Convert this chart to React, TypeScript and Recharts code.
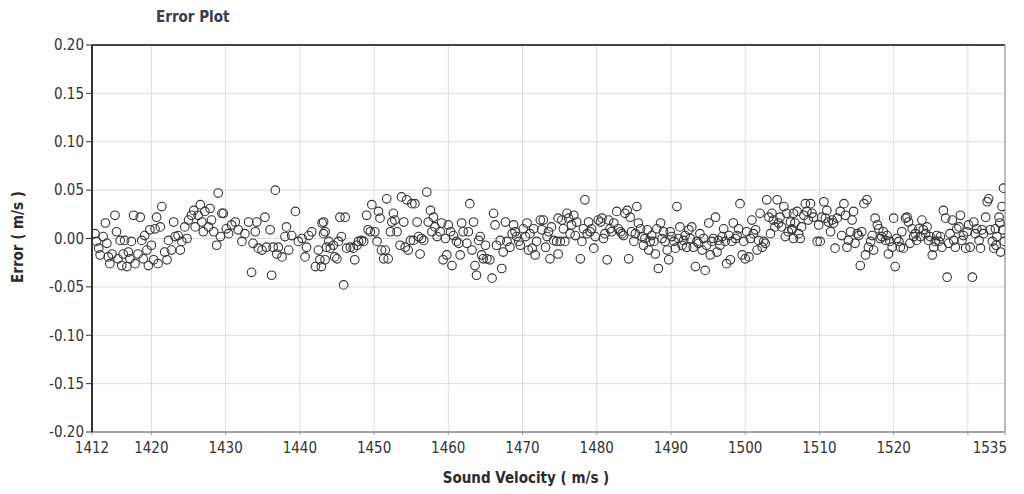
import React from "react";
import {
  ScatterChart,
  Scatter,
  XAxis,
  YAxis,
  CartesianGrid,
  ReferenceLine,
} from "recharts";

// [sound velocity (m/s), error (m/s)], left to right
const SEG_1412_1443: [number, number][] = [
  [1412.4, 0.005], [1412.6, -0.003], [1412.9, -0.01], [1413.1, -0.017], [1413.5, 0.002],
  [1413.8, 0.016], [1414.0, -0.005], [1414.2, -0.019], [1414.4, -0.026], [1414.7, -0.016],
  [1415.1, 0.024], [1415.3, 0.007], [1415.5, -0.021], [1415.8, -0.002], [1416.0, -0.028],
  [1416.2, -0.016], [1416.4, -0.002], [1416.7, -0.029], [1416.9, -0.014], [1417.1, -0.021],
  [1417.3, -0.003], [1417.6, 0.024], [1417.8, -0.026], [1418.2, -0.016], [1418.5, 0.022],
  [1418.7, -0.002], [1418.9, -0.021], [1419.1, 0.003], [1419.4, -0.012], [1419.6, -0.028],
  [1419.8, 0.009], [1420.0, -0.007], [1420.3, -0.022], [1420.5, 0.01], [1420.7, 0.022],
  [1420.9, -0.026], [1421.2, 0.012], [1421.4, 0.033], [1421.8, -0.014], [1422.1, -0.022],
  [1422.3, -0.002], [1422.7, -0.012], [1423.0, 0.017], [1423.2, 0.002], [1423.6, 0.003],
  [1423.9, -0.012], [1424.1, -0.003], [1424.5, 0.012], [1424.8, 0.0], [1425.0, 0.019],
  [1425.4, 0.024], [1425.7, 0.029], [1425.9, 0.012], [1426.3, 0.024], [1426.6, 0.035],
  [1426.8, 0.017], [1427.0, 0.007], [1427.2, 0.028], [1427.7, 0.012], [1427.9, 0.031],
  [1428.1, 0.019], [1428.4, 0.007], [1428.8, -0.007], [1429.0, 0.047], [1429.3, 0.002],
  [1429.5, 0.026], [1429.7, 0.026], [1430.1, 0.01], [1430.4, 0.005], [1430.8, 0.014],
  [1431.3, 0.017], [1431.7, 0.009], [1432.2, -0.003], [1432.6, 0.005], [1433.1, 0.017],
  [1433.5, -0.035], [1433.7, -0.005], [1434.0, 0.007], [1434.2, 0.017], [1434.4, -0.01],
  [1434.9, -0.012], [1435.3, 0.022], [1435.5, -0.009], [1436.0, 0.009], [1436.2, -0.038],
  [1436.4, -0.009], [1436.7, 0.05], [1436.9, -0.016], [1437.1, -0.009], [1437.6, -0.019],
  [1438.0, 0.002], [1438.2, 0.012], [1438.5, -0.012], [1438.9, 0.003], [1439.4, 0.028],
  [1439.8, -0.003], [1440.3, 0.0], [1440.7, -0.019], [1440.9, -0.009], [1441.2, 0.003],
  [1441.6, 0.007], [1442.1, -0.029], [1442.5, -0.012], [1442.7, -0.022], [1443.0, 0.016],
  [1443.2, 0.005],
];

const SEG_1443_1475: [number, number][] = [
  [1443.2, 0.017], [1443.4, 0.007], [1443.6, -0.009], [1443.4, -0.022], [1442.9, -0.029],
  [1443.9, -0.003], [1444.1, -0.01], [1444.5, -0.007], [1444.7, -0.019], [1445.0, -0.021],
  [1445.2, -0.003], [1445.4, 0.022], [1445.6, 0.002], [1445.9, -0.048], [1446.1, 0.022],
  [1446.3, -0.01], [1446.8, -0.009], [1447.2, -0.01], [1447.4, -0.022], [1447.7, -0.007],
  [1447.9, -0.003], [1448.3, -0.002], [1448.6, -0.003], [1449.0, 0.024], [1449.2, 0.009],
  [1449.5, 0.007], [1449.7, 0.035], [1450.1, 0.007], [1450.4, -0.003], [1450.6, 0.028],
  [1450.8, 0.021], [1451.0, -0.012], [1451.3, -0.021], [1451.5, -0.012], [1451.7, 0.041],
  [1451.9, -0.021], [1452.2, 0.007], [1452.4, 0.017], [1452.6, 0.026], [1452.8, 0.019],
  [1453.1, 0.007], [1453.5, -0.007], [1453.7, 0.043], [1454.0, 0.017], [1454.2, -0.009],
  [1454.4, 0.04], [1454.6, -0.012], [1454.9, -0.002], [1455.1, 0.036], [1455.3, -0.002],
  [1455.5, 0.036], [1455.8, 0.017], [1456.0, 0.002], [1456.2, -0.016], [1456.4, 0.0],
  [1456.7, -0.002], [1457.1, 0.048], [1457.3, 0.017], [1457.6, 0.029], [1457.8, 0.007],
  [1458.0, 0.022], [1458.2, 0.012], [1458.5, 0.002], [1458.9, 0.007], [1459.1, 0.016],
  [1459.3, -0.022], [1459.6, 0.0], [1459.8, -0.017], [1460.0, 0.014], [1460.3, 0.007],
  [1460.5, -0.028], [1460.7, 0.003], [1461.1, -0.003], [1461.4, -0.005], [1461.6, -0.017],
  [1461.8, 0.016], [1462.0, 0.007], [1462.5, -0.005], [1462.7, 0.007], [1462.9, 0.036],
  [1463.2, -0.012], [1463.4, 0.017], [1463.6, -0.028], [1463.8, -0.038], [1464.1, -0.002],
  [1464.3, 0.002], [1464.5, -0.017], [1464.7, -0.021], [1465.0, -0.007], [1465.2, -0.021],
  [1465.6, -0.022], [1465.9, -0.041], [1466.1, 0.026], [1466.3, 0.014], [1466.5, -0.007],
  [1467.0, -0.002], [1467.2, -0.031], [1467.4, -0.014], [1467.7, 0.017], [1467.9, -0.003],
  [1468.3, -0.009], [1468.6, 0.005], [1468.8, 0.014], [1469.0, 0.007], [1469.2, 0.002],
  [1469.5, -0.003], [1469.7, -0.007], [1470.1, 0.01], [1470.4, 0.002], [1470.6, 0.016],
  [1470.8, -0.012], [1471.0, 0.005], [1471.3, -0.01], [1471.5, 0.01], [1471.7, -0.017],
  [1471.9, -0.003], [1472.4, 0.019], [1472.6, 0.009], [1472.8, 0.019], [1473.1, -0.009],
  [1473.3, 0.002], [1473.5, 0.007], [1473.7, -0.021], [1473.9, 0.012], [1474.2, -0.002],
  [1474.6, -0.003], [1474.8, 0.021],
];

const SEG_1475_1506: [number, number][] = [
  [1474.8, -0.016], [1475.1, -0.003], [1475.3, 0.019], [1475.5, 0.01], [1475.7, -0.003],
  [1476.0, 0.026], [1476.2, 0.021], [1476.4, 0.005], [1476.6, 0.014], [1476.9, 0.024],
  [1477.1, 0.003], [1477.3, 0.017], [1477.8, -0.021], [1478.0, -0.003], [1478.2, 0.01],
  [1478.4, 0.04], [1478.7, 0.005], [1478.9, 0.017], [1479.1, 0.007], [1479.3, 0.01],
  [1479.6, -0.01], [1479.8, 0.002], [1480.2, 0.019], [1480.5, 0.017], [1480.7, 0.021],
  [1480.9, 0.0], [1481.1, 0.005], [1481.4, -0.022], [1481.6, 0.019], [1481.8, 0.01],
  [1482.0, 0.007], [1482.3, 0.016], [1482.7, 0.028], [1482.9, 0.01], [1483.2, 0.007],
  [1483.4, 0.005], [1483.6, 0.003], [1483.8, 0.026], [1484.1, 0.029], [1484.3, -0.021],
  [1484.5, 0.022], [1484.7, 0.007], [1485.0, -0.003], [1485.2, 0.005], [1485.4, 0.033],
  [1485.6, 0.016], [1485.9, 0.01], [1486.1, 0.002], [1486.3, -0.007], [1486.5, 0.0],
  [1486.8, 0.009], [1487.0, -0.012], [1487.2, -0.003], [1487.4, 0.003], [1487.7, -0.003],
  [1487.9, -0.016], [1488.1, 0.01], [1488.3, -0.031], [1488.6, 0.016], [1488.8, 0.0],
  [1489.0, 0.007], [1489.2, -0.003], [1489.5, -0.012], [1489.7, -0.022], [1489.9, 0.007],
  [1490.1, 0.002], [1490.4, -0.003], [1490.6, -0.01], [1490.8, 0.033], [1491.0, 0.0],
  [1491.2, 0.012], [1491.5, -0.007], [1491.7, -0.002], [1491.9, 0.003], [1492.1, -0.009],
  [1492.4, 0.009], [1492.6, 0.0], [1492.8, 0.012], [1493.0, -0.009], [1493.3, -0.029],
  [1493.5, -0.003], [1493.7, -0.005], [1493.9, 0.005], [1494.2, -0.012], [1494.4, 0.0],
  [1494.6, -0.033], [1494.8, -0.007], [1495.1, 0.016], [1495.3, -0.017], [1495.5, -0.003],
  [1495.7, 0.0], [1496.0, 0.022], [1496.2, -0.014], [1496.4, -0.002], [1496.6, -0.007],
  [1496.9, 0.002], [1497.1, 0.01], [1497.3, -0.003], [1497.5, -0.026], [1497.8, 0.003],
  [1498.0, -0.022], [1498.2, -0.003], [1498.4, 0.016], [1498.7, 0.0], [1498.9, 0.003],
  [1499.1, 0.01], [1499.3, 0.036], [1499.6, -0.017], [1499.8, -0.003], [1500.0, -0.021],
  [1500.2, 0.007], [1500.5, -0.019], [1500.7, 0.0], [1500.9, 0.019], [1501.1, 0.005],
  [1501.4, 0.009], [1501.6, -0.012], [1501.8, -0.002], [1502.0, 0.026], [1502.3, -0.009],
  [1502.5, -0.003], [1502.7, -0.005], [1502.9, 0.04], [1503.2, 0.022], [1503.4, 0.005],
  [1503.6, 0.026], [1503.8, 0.019], [1504.0, 0.012], [1504.3, 0.04], [1504.5, 0.016],
  [1504.7, 0.022], [1504.9, 0.012], [1505.2, 0.033], [1505.4, 0.002], [1505.6, 0.026],
  [1505.8, 0.007], [1506.1, 0.017], [1506.3, 0.01], [1506.5, 0.026],
];

const SEG_1506_1535: [number, number][] = [
  [1506.3, 0.009], [1506.5, 0.0], [1506.7, 0.016], [1507.0, 0.028], [1507.2, 0.005],
  [1507.4, 0.0], [1507.6, 0.012], [1507.9, 0.024], [1508.1, 0.036], [1508.3, 0.028],
  [1508.5, 0.019], [1508.8, 0.036], [1509.0, 0.026], [1509.2, 0.022], [1509.7, -0.003],
  [1509.9, 0.014], [1510.1, -0.003], [1510.3, 0.022], [1510.6, 0.038], [1510.8, 0.021],
  [1511.0, 0.029], [1511.2, 0.017], [1511.5, 0.007], [1511.7, 0.019], [1511.9, 0.016],
  [1512.1, -0.01], [1512.4, 0.021], [1512.8, 0.028], [1513.0, 0.003], [1513.3, 0.036],
  [1513.5, 0.024], [1513.7, -0.009], [1513.9, -0.002], [1514.2, 0.007], [1514.4, 0.019],
  [1514.6, 0.028], [1514.8, -0.005], [1515.1, 0.005], [1515.3, 0.003], [1515.5, -0.028],
  [1515.7, 0.007], [1516.0, 0.036], [1516.2, -0.017], [1516.4, 0.04], [1516.6, -0.009],
  [1516.9, -0.003], [1517.1, 0.003], [1517.3, -0.012], [1517.5, 0.021], [1517.8, 0.014],
  [1518.0, 0.01], [1518.2, 0.0], [1518.4, 0.002], [1518.6, 0.007], [1518.9, -0.002],
  [1519.1, 0.003], [1519.3, -0.016], [1519.5, -0.003], [1519.8, -0.009], [1520.0, 0.021],
  [1520.2, -0.029], [1520.4, 0.0], [1520.7, -0.003], [1520.9, -0.009], [1521.1, 0.007],
  [1521.3, -0.01], [1521.6, 0.021], [1521.8, 0.022], [1522.0, 0.017], [1522.2, -0.005],
  [1522.5, 0.01], [1522.7, 0.002], [1522.9, 0.005], [1523.1, -0.002], [1523.4, 0.01],
  [1523.6, 0.002], [1523.8, 0.019], [1524.0, 0.009], [1524.3, 0.005], [1524.5, 0.012],
  [1524.7, -0.002], [1524.9, 0.002], [1525.2, -0.017], [1525.4, -0.009], [1525.6, -0.003],
  [1525.8, 0.003], [1526.1, -0.003], [1526.3, 0.002], [1526.5, -0.009], [1526.7, 0.029],
  [1527.0, 0.021], [1527.2, -0.04], [1527.4, -0.005], [1527.6, 0.005], [1527.9, 0.019],
  [1528.1, -0.002], [1528.3, -0.009], [1528.5, 0.01], [1528.8, 0.012], [1529.0, 0.024],
  [1529.2, -0.002], [1529.4, 0.003], [1529.7, -0.01], [1529.9, 0.007], [1530.1, 0.014],
  [1530.3, -0.009], [1530.6, -0.04], [1530.8, 0.017], [1531.0, 0.005], [1531.2, 0.01],
  [1531.5, -0.002], [1531.7, -0.01], [1531.9, 0.009], [1532.1, 0.005], [1532.4, 0.022],
  [1532.6, 0.038], [1532.8, 0.041], [1533.0, 0.009], [1533.3, -0.003], [1533.5, -0.01],
  [1533.7, 0.01], [1533.8, -0.007], [1533.9, 0.002], [1534.2, 0.022], [1534.3, 0.016],
  [1534.4, -0.014], [1534.6, 0.033], [1534.7, 0.009], [1534.8, 0.052], [1534.9, -0.003],
];

const X_TICKS = [1412, 1420, 1430, 1440, 1450, 1460, 1470, 1480, 1490, 1500, 1510, 1520, 1530, 1535];
const X_LABELED = [1412, 1420, 1430, 1440, 1450, 1460, 1470, 1480, 1490, 1500, 1510, 1520, 1535];
const Y_TICKS = [-0.2, -0.15, -0.1, -0.05, 0, 0.05, 0.1, 0.15, 0.2];

const points = [...SEG_1412_1443, ...SEG_1443_1475, ...SEG_1475_1506, ...SEG_1506_1535].map(
  ([velocity, error]) => ({ velocity, error })
);

const FONT = '"DejaVu Sans Condensed", "Liberation Sans Narrow", "DejaVu Sans", sans-serif';

const Ring = (props: any) => {
  const { cx, cy } = props;
  if (cx == null || cy == null) return null;
  return <circle cx={cx} cy={cy} r={4.3} fill="none" stroke="#333" strokeWidth={1.1} />;
};

// last label sits flush against the right frame so it is not clipped
const VelocityTick = (props: any) => {
  const { x, y, payload } = props;
  const v = payload.value;
  if (!X_LABELED.includes(v)) return null;
  const last = v === X_TICKS[X_TICKS.length - 1];
  return (
    <text
      x={last ? x + 2 : x}
      y={y + 5}
      dy="0.71em"
      textAnchor={last ? "end" : "middle"}
      fill="#333"
      fontSize={15}
      fontFamily={FONT}
    >
      {v}
    </text>
  );
};

export default function App() {
  return (
    <div style={{ position: "relative", width: 1008, height: 478, fontFamily: FONT }}>
      <style>{"html, body { overflow: hidden; }"}</style>
      <div
        style={{
          position: "absolute",
          left: 148,
          top: 0,
          fontSize: 15,
          fontWeight: "bold",
          color: "#3b3b4e",
        }}
      >
        Error Plot
      </div>
      <div
        style={{
          position: "absolute",
          left: 10,
          top: 229,
          transform: "translate(-50%, -50%) rotate(-90deg)",
          fontSize: 15,
          fontWeight: "bold",
          color: "#2a2a2a",
          whiteSpace: "nowrap",
        }}
      >
        Error ( m/s )
      </div>
      <div
        style={{
          position: "absolute",
          left: 518,
          top: 470,
          transform: "translate(-50%, -50%)",
          fontSize: 15,
          fontWeight: "bold",
          color: "#2a2a2a",
          whiteSpace: "nowrap",
        }}
      >
        Sound Velocity ( m/s )
      </div>
      <ScatterChart width={1008} height={478} margin={{ top: 37, right: 11, bottom: 24, left: 24 }}>
        <CartesianGrid stroke="#dcdcdc" strokeWidth={1} />
        <XAxis
          type="number"
          dataKey="velocity"
          domain={[1412, 1535]}
          ticks={X_TICKS}
          interval={0}
          allowDataOverflow
          height={30}
          tickSize={3}
          tickLine={{ stroke: "#999" }}
          axisLine={{ stroke: "#8a8a8a", strokeWidth: 1.5 }}
          tick={VelocityTick}
        />
        <YAxis
          type="number"
          dataKey="error"
          domain={[-0.2, 0.2]}
          ticks={Y_TICKS}
          interval={0}
          allowDataOverflow
          width={60}
          tickSize={6}
          tickLine={{ stroke: "#333" }}
          axisLine={{ stroke: "#333", strokeWidth: 2 }}
          tick={{ fill: "#333", fontSize: 15, fontFamily: FONT }}
          tickFormatter={(v: number) => v.toFixed(2)}
        />
        <ReferenceLine y={0.2} stroke="#444" strokeWidth={2} />
        <ReferenceLine x={1535} stroke="#aaa" strokeWidth={1.5} />
        <Scatter data={points} shape={Ring} isAnimationActive={false} />
      </ScatterChart>
    </div>
  );
}
